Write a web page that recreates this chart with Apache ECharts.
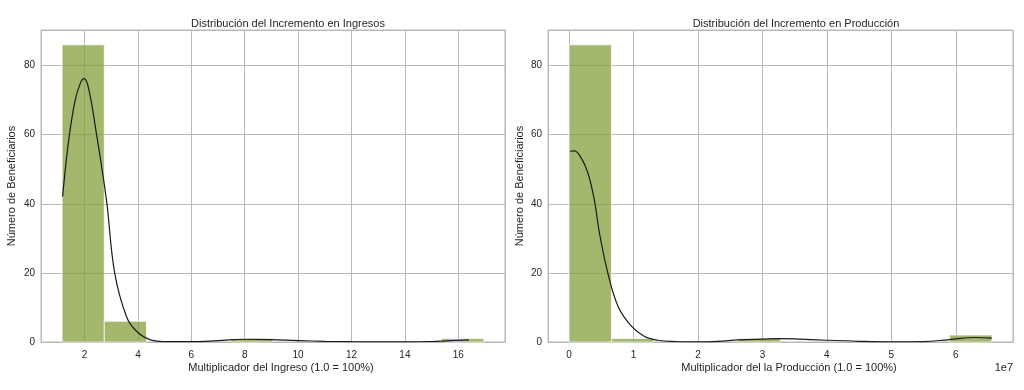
<!DOCTYPE html>
<html>
<head>
<meta charset="utf-8">
<script src="https://cdn.jsdelivr.net/npm/echarts@6/dist/echarts.min.js"></script>
<style>
html,body{margin:0;padding:0;background:#fff;}
#chart{width:1024px;height:390px;}
</style>
</head>
<body>
<div id="chart"></div>
<script>
// ---- Data ----
const titles = ['Distribución del Incremento en Ingresos', 'Distribución del Incremento en Producción'];
const xNames = ['Multiplicador del Ingreso (1.0 = 100%)', 'Multiplicador del la Producción (1.0 = 100%)'];
const yName = 'Número de Beneficiarios';

// Income histogram: bin edges and counts
const incomeBinEdges = [1.16, 2.74, 4.32, 5.90, 7.48, 9.06, 10.64, 12.22, 13.80, 15.38, 16.96];
const incomeCounts   = [86, 6, 0, 0, 1, 0, 0, 0, 0, 1];
// Income KDE curve
const incomeKdeX = [1.18, 1.4, 1.65, 1.85, 1.98, 2.15, 2.44, 2.82, 3.13, 3.57, 3.95, 4.45, 5.1, 6.0, 7.0, 8.0, 9.0, 10.0, 11.0, 12.0, 13.0, 14.0, 15.0, 15.6, 16.4];
const incomeKdeY = [42.1, 58, 70, 75, 76.2, 73.5, 60.6, 41.2, 20, 7.4, 3.1, 0.7, 0.1, 0.1, 0.4, 0.8, 0.7, 0.4, 0.2, 0.1, 0.05, 0.05, 0.15, 0.35, 0.6];

// Production histogram: bin edges and counts
const prodBinEdges = [0, 6560000, 13120000, 19680000, 26240000, 32800000, 39360000, 45920000, 52480000, 59040000, 65600000];
const prodCounts   = [86, 1, 0, 0, 1, 0, 0, 0, 0, 2];
// Production KDE curve
const prodKdeX = [150000, 800000, 1800000, 2900000, 3900000, 4700000, 6000000, 7600000, 9700000, 11700000, 13800000, 16500000, 20000000, 23000000, 26300000, 30000000, 32600000, 35000000, 40000000, 45000000, 50000000, 55000000, 59000000, 63000000, 65600000];
const prodKdeY = [55.2, 55.3, 53.5, 49, 41.2, 31.6, 20, 10.3, 4.5, 1.6, 0.5, 0.15, 0.05, 0.2, 0.6, 0.85, 1.0, 0.9, 0.5, 0.2, 0.05, 0.1, 0.7, 1.3, 1.1];

const yMax = 90.3;
const yTicksStep = 20;

// ---- Chart ----
const textColor = '#262626';
const gridColor = '#b8b8b8';
const barColor = 'rgba(132,160,59,0.75)';
const font = 'Liberation Sans, Arial, sans-serif';

function histData(edges, counts) {
  return counts.map((c, i) => [edges[i], edges[i + 1], c]);
}
function pairs(xs, ys) { return xs.map((x, i) => [x, ys[i]]); }

function renderBar(params, api) {
  const x0 = api.value(0), x1 = api.value(1), c = api.value(2);
  if (c <= 0) return null;
  const p0 = api.coord([x0, c]);
  const p1 = api.coord([x1, 0]);
  return {
    type: 'rect',
    shape: { x: p0[0], y: p0[1], width: p1[0] - p0[0], height: p1[1] - p0[1] },
    style: { fill: barColor, stroke: 'rgba(255,255,255,0.9)', lineWidth: 0.8 }
  };
}

const chart = echarts.init(document.getElementById('chart'), null, { renderer: 'canvas' });

function xAxisCfg(idx, min, max, splitNumber, fmt) {
  return {
    type: 'value', gridIndex: idx, min: min, max: max, splitNumber: splitNumber,
    axisLine: { show: true, onZero: false, lineStyle: { color: gridColor, width: 1 } },
    axisTick: { show: false },
    axisLabel: { color: textColor, fontSize: 10, fontFamily: font, margin: 8, showMinLabel: false, showMaxLabel: false, formatter: fmt },
    splitLine: { show: true, lineStyle: { color: gridColor, width: 1 } }
  };
}
function yAxisCfg(idx) {
  return {
    type: 'value', gridIndex: idx, min: 0, max: yMax, interval: yTicksStep,
    axisLine: { show: true, lineStyle: { color: gridColor, width: 1 } },
    axisTick: { show: false },
    axisLabel: { color: textColor, fontSize: 10, fontFamily: font, margin: 6, showMaxLabel: false },
    splitLine: { show: true, lineStyle: { color: gridColor, width: 1 } }
  };
}

const incMin = incomeBinEdges[0], incMax = incomeBinEdges[incomeBinEdges.length - 1];
const incPad = (incMax - incMin) * 0.05;
const prMin = prodBinEdges[0], prMax = prodBinEdges[prodBinEdges.length - 1];
const prPad = (prMax - prMin) * 0.05;

const option = {
  animation: false,
  backgroundColor: '#fff',
  textStyle: { fontFamily: font },
  title: [
    { text: titles[0], left: 283, top: 13, textAlign: 'center', textStyle: { fontSize: 11, fontWeight: 'normal', color: textColor, fontFamily: font } },
    { text: titles[1], left: 791, top: 13, textAlign: 'center', textStyle: { fontSize: 11, fontWeight: 'normal', color: textColor, fontFamily: font } }
  ],
  grid: [
    { left: 41, top: 30, width: 464, height: 312, show: true, borderColor: gridColor, borderWidth: 1, backgroundColor: '#fff' },
    { left: 548, top: 30, width: 465, height: 312, show: true, borderColor: gridColor, borderWidth: 1, backgroundColor: '#fff' }
  ],
  xAxis: [
    xAxisCfg(0, incMin - incPad, incMax + incPad, 8, v => String(Math.round(v))),
    xAxisCfg(1, prMin - prPad, prMax + prPad, 7, v => String(Math.round(v / 1e7)))
  ],
  yAxis: [yAxisCfg(0), yAxisCfg(1)],
  graphic: [
    { type: 'text', left: 282 - 100, top: 361, style: { text: xNames[0], fill: textColor, font: '11px ' + font, width: 200, align: 'center' } },
    { type: 'text', x: 282, y: 368, style: { text: xNames[0], fill: 'transparent', font: '11px ' + font } },
    { type: 'text', x: 12, y: 186, rotation: Math.PI / 2, style: { text: yName, fill: textColor, font: '11px ' + font, textAlign: 'center', textVerticalAlign: 'middle' } },
    { type: 'text', x: 520, y: 186, rotation: Math.PI / 2, style: { text: yName, fill: textColor, font: '11px ' + font, textAlign: 'center', textVerticalAlign: 'middle' } },
    { type: 'text', x: 1013, y: 368, style: { text: '1e7', fill: textColor, font: '11px ' + font, textAlign: 'right', textVerticalAlign: 'middle' } }
  ],
  series: [
    { type: 'custom', xAxisIndex: 0, yAxisIndex: 0, renderItem: renderBar, data: histData(incomeBinEdges, incomeCounts), encode: { x: [0, 1], y: 2 }, z: 2 },
    { type: 'line', xAxisIndex: 0, yAxisIndex: 0, data: pairs(incomeKdeX, incomeKdeY), smooth: 0.4, showSymbol: false, symbol: 'none', lineStyle: { color: '#1a1a1a', width: 1.2 }, z: 3 },
    { type: 'custom', xAxisIndex: 1, yAxisIndex: 1, renderItem: renderBar, data: histData(prodBinEdges, prodCounts), encode: { x: [0, 1], y: 2 }, z: 2 },
    { type: 'line', xAxisIndex: 1, yAxisIndex: 1, data: pairs(prodKdeX, prodKdeY), smooth: 0.4, showSymbol: false, symbol: 'none', lineStyle: { color: '#1a1a1a', width: 1.2 }, z: 3 }
  ]
};
// replace x-axis name graphics with centered text
option.graphic[0] = { type: 'text', x: 281, y: 368, style: { text: xNames[0], fill: textColor, font: '11px ' + font, textAlign: 'center', textVerticalAlign: 'middle' } };
option.graphic[1] = { type: 'text', x: 789, y: 368, style: { text: xNames[1], fill: textColor, font: '11px ' + font, textAlign: 'center', textVerticalAlign: 'middle' } };
chart.setOption(option);
</script>
</body>
</html>
